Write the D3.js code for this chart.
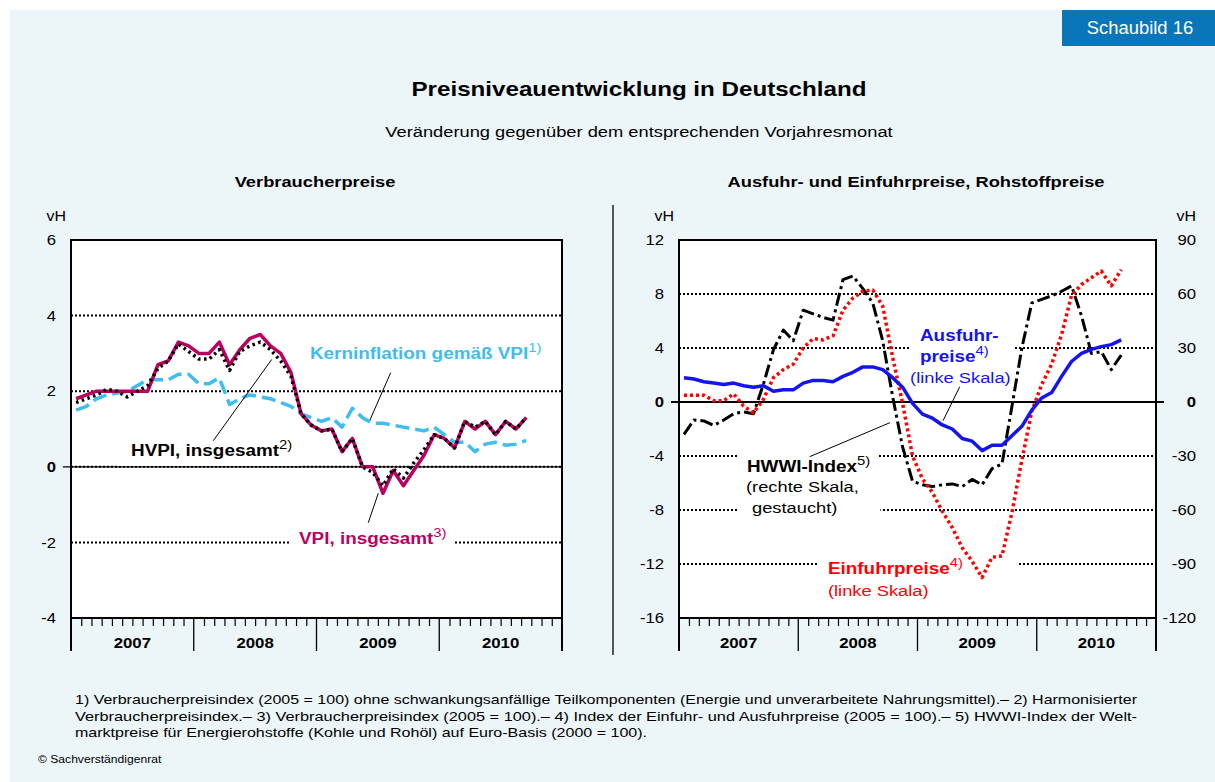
<!DOCTYPE html>
<html><head><meta charset="utf-8">
<script src="https://cdn.jsdelivr.net/npm/d3@7"></script>
<style>
body{margin:0;background:#fff}
svg{display:block;font-family:"Liberation Sans",Arial,Helvetica,sans-serif}
</style>
</head><body>
<svg id="c" width="1215" height="782"></svg>
<script>
// ---------------- DATA ----------------
const years = ["2007", "2008", "2009", "2010"];
const nMonths = 48; // Jan 2007 .. Dec 2010 axis; data Jan 2007 .. Sep 2010

// Left panel: Verbraucherpreise (vH)
const vpi = [1.8,1.9,2.0,2.0,2.0,2.0,2.0,2.0,2.7,2.8,3.3,3.2,
             3.0,3.0,3.3,2.7,3.1,3.4,3.5,3.2,3.0,2.5,1.4,1.1,
             0.95,1.0,0.4,0.75,0.0,0.0,-0.7,-0.1,-0.5,-0.1,0.3,0.85,
             0.75,0.5,1.2,1.0,1.2,0.85,1.2,1.0,1.3];
const hvpi = [1.7,1.8,1.9,2.05,2.0,1.85,2.0,2.15,2.6,2.8,3.25,3.05,
              2.85,2.85,3.1,2.55,3.05,3.2,3.3,3.1,2.8,2.4,1.4,1.1,
              0.95,1.0,0.4,0.75,0.0,-0.15,-0.5,-0.05,-0.3,0.1,0.45,0.85,
              0.75,0.5,1.2,1.05,1.2,0.85,1.2,1.0,1.3];
const kern = [1.5,1.6,1.8,1.9,1.95,2.0,2.15,2.3,2.3,2.3,2.45,2.45,
              2.2,2.2,2.35,1.65,1.8,1.9,1.85,1.8,1.7,1.6,1.4,1.3,
              1.2,1.3,1.05,1.55,1.3,1.15,1.15,1.1,1.05,1.0,0.95,1.05,
              0.85,0.65,0.65,0.4,0.6,0.65,0.57,0.6,0.7];

// Right panel: Ausfuhr-/Einfuhrpreise (linke Skala), HWWI (rechte Skala)
const ausfuhr = [1.8,1.7,1.5,1.4,1.3,1.4,1.2,1.1,1.2,0.8,0.9,0.9,
                 1.4,1.6,1.6,1.5,1.9,2.2,2.6,2.6,2.4,1.8,1.1,-0.1,
                 -0.9,-1.2,-1.7,-2.0,-2.7,-2.9,-3.6,-3.2,-3.2,-2.5,-1.8,-0.6,
                 0.3,0.7,1.9,3.0,3.6,3.9,4.1,4.25,4.6];
const einfuhr = [0.5,0.5,0.5,0.1,0.1,0.6,-0.3,-0.8,0.2,1.8,2.4,2.8,
                 4.0,4.7,4.6,4.9,6.8,7.7,8.2,8.3,7.1,3.3,-0.1,-4.0,
                 -5.7,-6.7,-8.1,-9.3,-10.8,-11.8,-13.0,-11.5,-11.4,-8.2,-4.3,-0.7,
                 1.3,2.8,5.0,7.9,8.7,9.2,9.7,8.6,9.8];
const hwwi = [-18,-10,-10.5,-13,-10,-6.5,-5.5,-6.5,10,29,40,34,
              51,49,47,45.5,68,70,63,55,34,3,-25,-44,
              -46,-47,-46,-45.5,-47,-43,-46,-37,-34.5,-2.5,30,55,
              57,59,61.5,64.5,48,27,28,18,26];

const leftTicks = [-4, -2, 0, 2, 4, 6];
const rightTicksL = [-16, -12, -8, -4, 0, 4, 8, 12];
const rightTicksR = [-120, -90, -60, -30, 0, 30, 60, 90];

const footnotes = [
  "1) Verbraucherpreisindex (2005 = 100) ohne schwankungsanfällige Teilkomponenten (Energie und unverarbeitete Nahrungsmittel).– 2) Harmonisierter",
  "Verbraucherpreisindex.– 3) Verbraucherpreisindex (2005 = 100).– 4) Index der Einfuhr- und Ausfuhrpreise (2005 = 100).– 5) HWWI-Index der Welt-",
  "marktpreise für Energierohstoffe (Kohle und Rohöl) auf Euro-Basis  (2000 = 100)."
];

// ---------------- DRAW ----------------
const K = 1.18; // horizontal stretch of the original lettering
function stretch(sel, k = K) {
  sel.each(function () {
    const L = this.getComputedTextLength();
    if (L > 0) d3.select(this).attr("textLength", L * k).attr("lengthAdjust", "spacingAndGlyphs");
  });
  return sel;
}

const svg = d3.select("#c");
svg.append("rect").attr("width", 1215).attr("height", 782).attr("fill", "#fff");
svg.append("rect").attr("x", 10).attr("y", 10).attr("width", 1205).attr("height", 772).attr("fill", "#ECF5F8");

// Schaubild box
svg.append("rect").attr("x", 1062).attr("y", 10).attr("width", 153).attr("height", 36).attr("fill", "#0A76BA");
stretch(svg.append("text").attr("x", 1140).attr("y", 34).attr("text-anchor", "middle")
  .attr("fill", "#fff").attr("font-size", 17.5).text("Schaubild 16"), 1.05);

stretch(svg.append("text").attr("x", 639).attr("y", 96).attr("text-anchor", "middle")
  .attr("font-size", 21).attr("font-weight", "bold").text("Preisniveauentwicklung in Deutschland"), 1.15);
stretch(svg.append("text").attr("x", 639).attr("y", 137).attr("text-anchor", "middle")
  .attr("font-size", 15.5).text("Veränderung gegenüber dem entsprechenden Vorjahresmonat"));

// separator
svg.append("line").attr("x1", 613).attr("x2", 613).attr("y1", 205).attr("y2", 655)
  .attr("stroke", "#000").attr("stroke-width", 1.3);

function panel(cfg) {
  const g = svg.append("g");
  const x = d3.scaleLinear().domain([0, nMonths]).range([cfg.x0, cfg.x1]);
  const y = d3.scaleLinear().domain(cfg.domain).range([cfg.y1, cfg.y0]);
  const yR = cfg.domainR ? d3.scaleLinear().domain(cfg.domainR).range([cfg.y1, cfg.y0]) : null;

  stretch(g.append("text").attr("x", cfg.titleX).attr("y", 187).attr("text-anchor", "middle")
    .attr("font-size", 15.5).attr("font-weight", "bold").text(cfg.title));

  g.append("rect").attr("x", cfg.x0).attr("y", cfg.y0).attr("width", cfg.x1 - cfg.x0)
    .attr("height", cfg.y1 - cfg.y0).attr("fill", "#fff");

  const gGrid = g.append("g"), gBox = g.append("g"), gZero = g.append("g"),
        gSer = g.append("g"), gAnn = g.append("g");

  // dotted grid
  cfg.ticks.filter(t => t !== cfg.domain[0] && t !== cfg.domain[1] && (t !== 0 || cfg.dottedZero))
    .forEach(t => {
      gGrid.append("line").attr("x1", cfg.x0).attr("x2", cfg.x1).attr("y1", y(t)).attr("y2", y(t))
        .attr("stroke", "#000").attr("stroke-width", 2).attr("stroke-dasharray", "2,2");
    });
  // zero line
  gZero.append("line").attr("x1", cfg.x0 - 8).attr("x2", cfg.x1 + (cfg.domainR ? 8 : 0))
    .attr("y1", y(0)).attr("y2", y(0)).attr("stroke", "#000").attr("stroke-width", cfg.zeroWidth);

  // series
  cfg.series.forEach(s => {
    const sc = s.right ? yR : y;
    const line = d3.line().x((d, i) => x(i + 0.5)).y(d => sc(d));
    gSer.append("path").datum(s.data).attr("d", line).attr("fill", "none")
      .attr("stroke", s.color).attr("stroke-width", s.width)
      .attr("stroke-dasharray", s.dash || null).attr("stroke-linejoin", "round");
  });

  // leaders
  cfg.leaders.forEach(l => {
    gAnn.append("line").attr("x1", x(l[0])).attr("y1", y(l[1])).attr("x2", x(l[2])).attr("y2", y(l[3]))
      .attr("stroke", "#000").attr("stroke-width", 1);
  });

  // labels
  cfg.labels.forEach(lb => {
    const t = gAnn.append("text").attr("x", x(lb.m)).attr("y", y(lb.v))
      .attr("fill", lb.color).attr("font-size", lb.size || 16)
      .attr("font-weight", lb.bold ? "bold" : "normal");
    const main = t.append("tspan").text(lb.text);
    stretch(main);
    if (lb.sup) stretch(t.append("tspan").attr("dy", -7).attr("font-size", 13.5)
      .attr("font-weight", "normal").text(lb.sup), 1.1);
    const bb = t.node().getBBox();
    const p = lb.pad || [8, 2, 8, 2];
    gBox.append("rect").attr("x", bb.x - p[0]).attr("y", bb.y - p[1])
      .attr("width", bb.width + p[0] + p[2]).attr("height", bb.height + p[1] + p[3]).attr("fill", "#fff");
  });

  // frame
  g.append("rect").attr("x", cfg.x0).attr("y", cfg.y0).attr("width", cfg.x1 - cfg.x0)
    .attr("height", cfg.y1 - cfg.y0).attr("fill", "none").attr("stroke", "#000").attr("stroke-width", 2);

  // month ticks
  const ax = g.append("g").attr("transform", `translate(0,${cfg.y1})`)
    .call(d3.axisBottom(x).tickValues(d3.range(1, nMonths).filter(k => k % 12)).tickSize(8).tickFormat(""));
  ax.select(".domain").remove();
  ax.selectAll(".tick line").attr("stroke", "#000").attr("stroke-width", 1.2);

  // year separators and labels
  d3.range(0, nMonths + 1, 12).forEach(k => {
    g.append("line").attr("x1", x(k)).attr("x2", x(k)).attr("y1", cfg.y1).attr("y2", cfg.y1 + 33)
      .attr("stroke", "#000").attr("stroke-width", k === 0 || k === nMonths ? 2 : 1.3);
  });
  years.forEach((yr, i) => {
    stretch(g.append("text").attr("x", x(i * 12 + 6)).attr("y", cfg.y1 + 30).attr("text-anchor", "middle")
      .attr("font-size", 15).attr("font-weight", "bold").text(yr), 1.12);
  });

  // y axis labels
  const ay = g.append("g").attr("transform", `translate(${cfg.x0},0)`)
    .call(d3.axisLeft(y).tickValues(cfg.ticks).tickSize(0).tickPadding(15).tickFormat(d => String(d)));
  ay.select(".domain").remove();
  stretch(ay.selectAll("text").attr("font-size", 14.5).attr("fill", "#000")
    .attr("font-family", "Liberation Sans, Arial, sans-serif")
    .attr("font-weight", d => d === 0 ? "bold" : "normal"), 1.15);
  stretch(g.append("text").attr("x", cfg.x0 - 5).attr("y", 221).attr("text-anchor", "end")
    .attr("font-size", 14.5).text("vH"), 1.1);

  if (yR) {
    const ar = g.append("g").attr("transform", `translate(${cfg.x1},0)`)
      .call(d3.axisRight(yR).tickValues(cfg.ticksR).tickSize(0).tickPadding(40).tickFormat(d => String(d)));
    ar.select(".domain").remove();
    stretch(ar.selectAll("text").attr("font-size", 14.5).attr("fill", "#000").attr("text-anchor", "end")
      .attr("font-family", "Liberation Sans, Arial, sans-serif")
      .attr("font-weight", d => d === 0 ? "bold" : "normal"), 1.15);
    stretch(g.append("text").attr("x", cfg.x1 + 40).attr("y", 221).attr("text-anchor", "end")
      .attr("font-size", 14.5).text("vH"), 1.1);
  }
}

const cCrimson = "#BC0060", cKern = "#3DBDF2", cBlue = "#1414EE", cRed = "#FF0000";

panel({
  x0: 71, x1: 562, y0: 240, y1: 618, domain: [-4, 6], ticks: leftTicks,
  title: "Verbraucherpreise", titleX: 315, dottedZero: true, zeroWidth: 1.2,
  series: [
    {data: kern, color: cKern, width: 3.5, dash: "14,6"},
    {data: vpi, color: cCrimson, width: 3.5},
    {data: hvpi, color: "#000", width: 3.5, dash: "2.5,3.5"}
  ],
  leaders: [[31.25, 2.49, 29.23, 1.24], [13.91, 0.69, 19.62, 2.84], [29.06, -1.48, 30.04, -0.70]],
  labels: [
    {m: 23.36, v: 2.85, text: "Kerninflation gemäß VPI", sup: "1)", color: cKern, bold: true, pad: [8, 2, 8, 2]},
    {m: 5.87, v: 0.29, text: "HVPI, insgesamt", sup: "2)", color: "#000", bold: true, pad: [13, 2, 10, 7]},
    {m: 22.29, v: -2.04, text: "VPI, insgesamt", sup: "3)", color: cCrimson, bold: true, pad: [9, 2, 8, 3]}
  ]
});

panel({
  x0: 679, x1: 1156, y0: 240, y1: 618, domain: [-16, 12], ticks: rightTicksL,
  domainR: [-120, 90], ticksR: rightTicksR,
  title: "Ausfuhr- und Einfuhrpreise, Rohstoffpreise", titleX: 916, dottedZero: false, zeroWidth: 2,
  series: [
    {data: hwwi, right: true, color: "#000", width: 3, dash: "13,4,3,4"},
    {data: einfuhr, color: cRed, width: 3.5, dash: "3,3"},
    {data: ausfuhr, color: cBlue, width: 3.5}
  ],
  leaders: [[28.25, 1.13, 26.57, -1.39], [13.15, -4.05, 21.23, -1.53]],
  labels: [
    {m: 24.25, v: 4.52, text: "Ausfuhr-", color: cBlue, bold: true, pad: [10, 2, 16, 5]},
    {m: 24.25, v: 2.96, text: "preise", sup: "4)", color: cBlue, bold: true, pad: [10, 1, 16, 1]},
    {m: 23.25, v: 1.41, text: "(linke Skala)", color: cBlue, size: 15.5, pad: [2, 1, 2, 1]},
    {m: 6.84, v: -5.19, text: "HWWI-Index", sup: "5)", color: "#000", bold: true, pad: [8, 0, 8, 0]},
    {m: 6.74, v: -6.67, text: "(rechte Skala,", color: "#000", size: 15.5, pad: [8, 0, 8, 0]},
    {m: 7.35, v: -8.22, text: "gestaucht)", color: "#000", size: 15.5, pad: [15, 1, 43, 1]},
    {m: 14.99, v: -12.74, text: "Einfuhrpreise", sup: "4)", color: cRed, bold: true, pad: [9, 2, 54, 2]},
    {m: 14.99, v: -14.37, text: "(linke Skala)", color: cRed, size: 15.5, pad: [2, 1, 2, 1]}
  ]
});

// footnotes
const fnWidths = [1062, 1062, 572];
footnotes.forEach((f, i) => {
  svg.append("text").attr("x", 75).attr("y", 704 + i * 16.5).attr("font-size", 13)
    .attr("textLength", fnWidths[i]).attr("lengthAdjust", "spacingAndGlyphs").text(f);
});
stretch(svg.append("text").attr("x", 38).attr("y", 763).attr("font-size", 11).text("© Sachverständigenrat"), 1.1);
</script>
</body></html>
